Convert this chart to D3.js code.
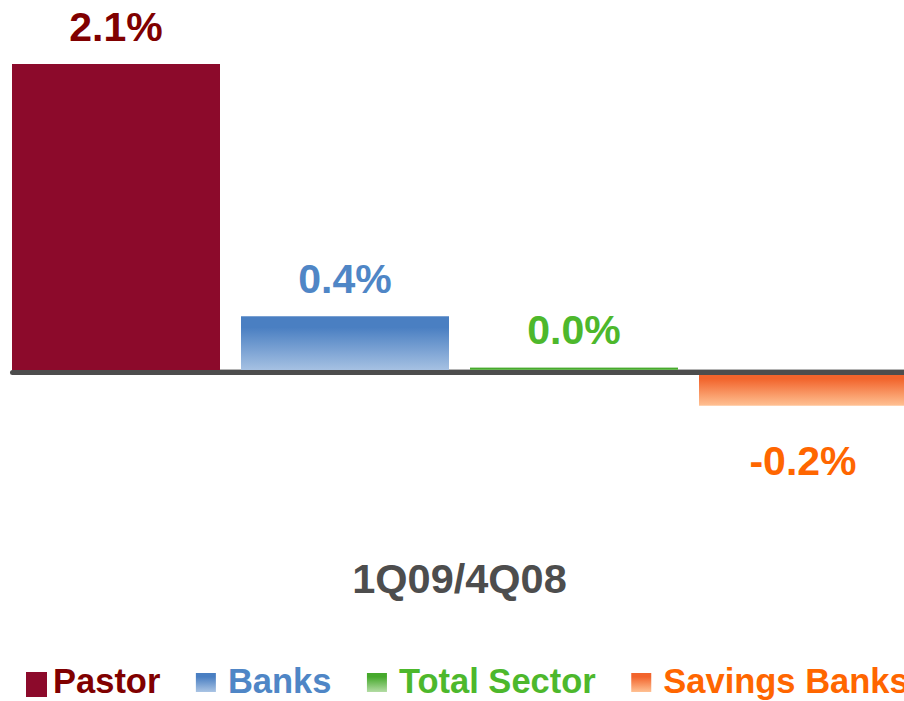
<!DOCTYPE html>
<html>
<head>
<meta charset="utf-8">
<script src="https://cdn.jsdelivr.net/npm/d3@7"></script>
<style>
  html, body { margin: 0; padding: 0; background: #fff; overflow: hidden; }
  text { font-family: "Liberation Sans", Arial, sans-serif; font-weight: bold; }
</style>
</head>
<body>
<svg id="chart" width="904" height="701"></svg>
<script>
// chart data
const series = ['Pastor', 'Banks', 'Total Sector', 'Savings Banks'];
const values = [2.1, 0.38, 0.03, -0.23];
const labels = ['2.1%', '0.4%', '0.0%', '-0.2%'];
const period = '1Q09/4Q08';

// colours per series
const textColors = ['#800000', '#4f86c6', '#4db82c', '#ff6600'];
const gradients = [
    ['#8c0a2b', '#8c0a2b'],
    ['#4a7fc2', '#aac4e4'],
    ['#46a92c', '#b3dca4'],
    ['#f2642c', '#ffc193']
];

const svg = d3.select('#chart');
const defs = svg.append('defs');

gradients.forEach((g, i) => {
    const grad = defs.append('linearGradient')
        .attr('id', 'grad' + i)
        .attr('x1', 0).attr('y1', 0)
        .attr('x2', 0).attr('y2', 1);
    grad.append('stop').attr('offset', '0%').attr('stop-color', g[0]);
    grad.append('stop').attr('offset', '20%').attr('stop-color', g[0]);
    grad.append('stop').attr('offset', '100%').attr('stop-color', g[1]);
});

const x = d3.scaleBand()
    .domain(series)
    .range([12, 907])
    .paddingInner(0.0917)
    .paddingOuter(0);

const y = d3.scaleLinear()
    .domain([0, 2.1])
    .range([372, 64]);

// light edge on top of the axis
svg.append('line')
    .attr('x1', 12).attr('x2', 910)
    .attr('y1', 369.5).attr('y2', 369.5)
    .attr('stroke', '#b4b4b4')
    .attr('stroke-width', 1);

// bars
svg.selectAll('rect.bar')
    .data(series)
    .join('rect')
    .attr('class', 'bar')
    .attr('x', d => x(d))
    .attr('width', x.bandwidth())
    .attr('y', (d, i) => Math.min(y(values[i]), y(0)))
    .attr('height', (d, i) => Math.abs(y(values[i]) - y(0)))
    .attr('fill', (d, i) => i === 0 ? gradients[0][0] : `url(#grad${i})`);

// zero line
svg.append('line')
    .attr('x1', 12.5).attr('x2', 910)
    .attr('y1', 372.5).attr('y2', 372.5)
    .attr('stroke', '#4d4d4d')
    .attr('stroke-width', 5)
    .attr('stroke-linecap', 'round');

// value labels
svg.selectAll('text.value')
    .data(series)
    .join('text')
    .attr('class', 'value')
    .attr('x', d => x(d) + x.bandwidth() / 2)
    .attr('y', (d, i) => values[i] >= 0 ? y(values[i]) - 23.5 : y(values[i]) + 69)
    .attr('text-anchor', 'middle')
    .attr('font-size', '41px')
    .attr('fill', (d, i) => textColors[i])
    .text((d, i) => labels[i]);

// category label
svg.append('text')
    .attr('x', (x.range()[0] + x.range()[1]) / 2)
    .attr('y', 593)
    .attr('text-anchor', 'middle')
    .attr('font-size', '41.5px')
    .attr('fill', '#4d4d4d')
    .text(period);

// legend (the last entry runs off the right edge, as in the original)
const legend = svg.append('g').attr('transform', 'translate(26, 0)');
let lx = 0;
series.forEach((s, i) => {
    const big = i === 0;
    const sw = big ? 21 : 20;
    const sh = big ? 25 : 19;
    const gap = big ? 6 : 12;
    legend.append('rect')
        .attr('x', lx)
        .attr('y', big ? 672 : 673)
        .attr('width', sw)
        .attr('height', sh)
        .attr('fill', big ? gradients[0][0] : `url(#grad${i})`);
    const t = legend.append('text')
        .attr('x', lx + sw + gap)
        .attr('y', 693)
        .attr('font-size', '34.5px')
        .attr('fill', textColors[i])
        .text(s);
    lx += sw + gap + t.node().getComputedTextLength() + 35.5;
});
</script>
</body>
</html>
